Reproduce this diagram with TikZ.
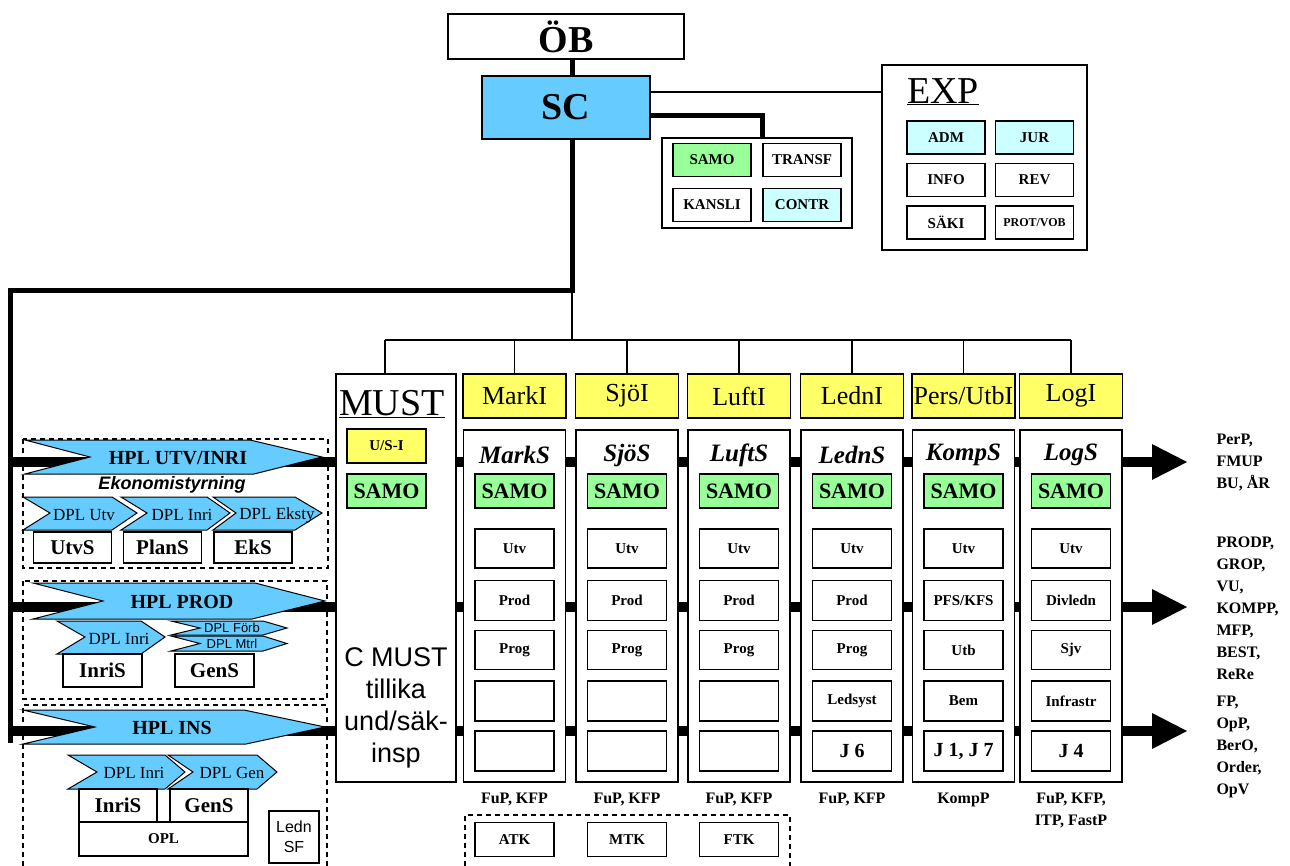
\documentclass[tikz,border=0pt]{standalone}
\usepackage{fontspec}
\setmainfont{Liberation Serif}
\setsansfont{Liberation Sans}
\usetikzlibrary{arrows.meta}
\definecolor{scblue}{HTML}{66CCFF}
\definecolor{samogreen}{HTML}{99FF99}
\definecolor{palecyan}{HTML}{CCFFFF}
\definecolor{inspyellow}{HTML}{FFFF66}
\newcommand{\fsz}[1]{\fontsize{#1}{#1}\selectfont}
\tikzset{
  orgbox/.style={draw,line width=1.3pt,fill=white,inner sep=0pt,align=center},
  unitbox/.style={orgbox,minimum width=79pt,minimum height=39pt,font=\bfseries\fsz{15}},
  samobox/.style={unitbox,fill=samogreen,minimum height=34pt,font=\bfseries\fsz{22}},
  staffbox/.style={unitbox,minimum width=78pt,minimum height=33pt},
  inspbox/.style={orgbox,fill=inspyellow,minimum width=103pt,minimum height=44pt,font=\fsz{26}},
  colbox/.style={orgbox,minimum width=102pt,minimum height=352pt},
  banner/.style={draw,line width=1pt,fill=scblue},
  hpltext/.style={font=\bfseries\fsz{20}},
  dpltext/.style={font=\fsz{17}},
  hplline/.style={line width=10pt},
  busline/.style={line width=5pt},
  linkline/.style={line width=1.2pt},
  dashbox/.style={line width=1.3pt,dash pattern=on 5pt off 4pt},
  listtext/.style={font=\bfseries\fontsize{16}{22}\selectfont,align=left,anchor=west}
}
\begin{document}
\begin{tikzpicture}[x=1pt,y=-1pt]
\useasboundingbox (0,0) rectangle (1290,865);
% HPL lines to the outputs
\foreach \y/\n in {462/A,607/B,731/C} {
  \coordinate (in\n) at (8,\y);
  \coordinate (out\n) at (1188,\y);
  \draw[hplline,-{Triangle[length=36pt,width=33pt]}] (in\n) -- (out\n);
}
% top of the organisation
\node[orgbox,minimum width=236pt,minimum height=45pt,font=\bfseries\fsz{38}] (ob) at (566,36.5) {ÖB};
\node[orgbox,fill=scblue,minimum width=168pt,minimum height=63pt,font=\bfseries\fsz{38}] (sc) at (566,107.5) {SC};
\coordinate (spine) at (572,290);
\coordinate (west) at (10,290);
\coordinate (westend) at (10,743);
\coordinate (fork) at (572,340);
\draw[busline] (ob.south -| spine) -- (sc.north -| spine);
\draw[busline] (sc.south -| spine) -- (spine) -- (west) -- (westend);
\draw[linkline] (spine) -- (fork);
% secretariat
\node[orgbox,minimum width=190pt,minimum height=90pt] (sek) at (757,183) {};
\node[staffbox,fill=samogreen] (samoS) at (712,160) {SAMO};
\node[staffbox] (transf) at (802,160) {TRANSF};
\node[staffbox] (kansli) at (712,205) {KANSLI};
\node[staffbox,fill=palecyan] (contr) at (802,205) {CONTR};
\draw[busline] (sc.east |- 0,115) -| (transf.west |- sek.north);
% EXP
\node[orgbox,minimum width=205pt,minimum height=185pt] (exp) at (984.5,157.5) {};
\node[anchor=base,font=\fsz{38}] (exptitle) at (943,103) {\underline{EXP}};
\node[staffbox,fill=palecyan] (adm) at (946,137.5) {ADM};
\node[staffbox,fill=palecyan] (jur) at (1034.5,137.5) {JUR};
\node[staffbox] (info) at (946,180) {INFO};
\node[staffbox] (rev) at (1034.5,180) {REV};
\node[staffbox] (saki) at (946,222.5) {SÄKI};
\node[staffbox,font=\bfseries\fsz{12}] (prot) at (1034.5,222.5) {PROT/VOB};
\draw[linkline] (sc.east |- 0,92) -- (exp.west |- 0,92);
% MUST
\node[orgbox,minimum width=120pt,minimum height=408pt] (must) at (396,578) {};
\node[anchor=base,font=\fsz{38}] (musttitle) at (392,415) {\underline{MUST}};
\node[samobox,fill=inspyellow,font=\bfseries\fsz{15}] (usi) at (386.5,446) {U/S-I};
\node[samobox] (samoM) at (386.5,491) {SAMO};
\node[font=\sffamily\fontsize{27}{32}\selectfont,align=center] (cmust) at (396,708) {C MUST\\tillika\\und/säk-\\insp};
% staff columns
\foreach \i/\cx/\hd/\ttl/\ra/\rb/\rc/\rd/\re/\foot in {
  1/514.5/MarkI/MarkS/Utv/Prod/Prog/{}/{}/{FuP, KFP},
  2/627/SjöI/SjöS/Utv/Prod/Prog/{}/{}/{FuP, KFP},
  3/739/LuftI/LuftS/Utv/Prod/Prog/{}/{}/{FuP, KFP},
  4/852/LednI/LednS/Utv/Prod/Prog/Ledsyst/{\fsz{20}J 6}/{FuP, KFP},
  5/963.5/{Pers/UtbI}/KompS/Utv/{PFS/KFS}/Utb/Bem/{\fsz{20}J 1, J 7}/KompP,
  6/1071/LogI/LogS/Utv/Divledn/Sjv/Infrastr/{\fsz{20}J 4}/{FuP, KFP,\\ITP, FastP}} {
  \node[inspbox] (hd\i) at (\cx,396) {\hd};
  \draw[linkline] (hd\i.north |- fork) -- (hd\i.north);
  \node[colbox] (col\i) at (\cx,606) {};
  \node[font=\bfseries\itshape\fsz{25}] (ttl\i) at (\cx,455) {\ttl};
  \node[samobox] (samo\i) at (\cx,491) {SAMO};
  \node[unitbox] (r\i a) at (\cx,548.5) {\ra};
  \node[unitbox,minimum height=40pt] (r\i b) at (\cx,600.5) {\rb};
  \node[unitbox] (r\i c) at (\cx,650) {\rc};
  \node[unitbox,minimum height=40pt] (r\i d) at (\cx,701) {\rd};
  \node[unitbox,minimum height=40pt] (r\i e) at (\cx,751) {\re};
  \node[font=\bfseries\fontsize{16}{22}\selectfont,align=center,anchor=north] (ft\i) at (\cx,789) {\foot};
}
\draw[linkline] ([xshift=-11pt]must.north |- fork) -- (hd6.north |- fork);
\draw[linkline] ([xshift=-11pt]must.north |- fork) -- ([xshift=-11pt]must.north);
% outputs
\node[listtext] (outtxtA) at (1213,462) {PerP,\\FMUP\\BU, ÅR};
\node[listtext] (outtxtB) at (1213,608) {PRODP,\\GROP,\\VU,\\KOMPP,\\MFP,\\BEST,\\ReRe};
\node[listtext] (outtxtC) at (1213,747) {FP,\\OpP,\\BerO,\\Order,\\OpV};
% ATK MTK FTK
\draw[dashbox] (465,866) -- (465,815) -- (790,815) -- (790,866);
\node[unitbox,minimum height=34pt] (atk) at (514.5,839.5) {ATK};
\node[unitbox,minimum height=34pt] (mtk) at (627,839.5) {MTK};
\node[unitbox,minimum height=34pt] (ftk) at (739,839.5) {FTK};
% HPL UTV/INRI
\draw[dashbox] (23,439) rectangle (328,568);
\draw[banner] (25,440) -- (250,440) -- (322,457) -- (254,474) -- (25,474) -- (90,457) -- cycle;
\node[hpltext] (hplutv) at (178,458) {HPL UTV/INRI};
\node[font=\sffamily\bfseries\itshape\fsz{18}] (ekon) at (172,485) {Ekonomistyrning};
\draw[banner] (23,497) -- (112,497) -- (137,513) -- (112,530) -- (23,530) -- (50,513) -- cycle;
\draw[banner] (121,497) -- (207,497) -- (230,513) -- (207,530) -- (121,530) -- (147,513) -- cycle;
\draw[banner] (213,497) -- (295,497) -- (322,513) -- (295,530) -- (213,530) -- (236,513) -- cycle;
\node[dpltext] (dplutv) at (84,515) {DPL Utv};
\node[dpltext] (dplinri) at (182,515) {DPL Inri};
\node[dpltext] (dpleksty) at (277,515) {DPL Eksty};
\node[staffbox,minimum height=31pt,font=\bfseries\fsz{21}] (utvs) at (72.5,547.5) {UtvS};
\node[staffbox,minimum height=31pt,font=\bfseries\fsz{21}] (plans) at (162.5,547.5) {PlanS};
\node[staffbox,minimum height=31pt,font=\bfseries\fsz{21}] (eks) at (253,547.5) {EkS};
% HPL PROD
\draw[dashbox] (23,581) rectangle (327,699);
\draw[banner] (33,583) -- (255,583) -- (325,601) -- (252,619) -- (33,619) -- (103,601) -- cycle;
\node[hpltext] (hplprod) at (182,602) {HPL PROD};
\draw[banner] (57,621) -- (141,621) -- (165,637) -- (141,654) -- (57,654) -- (85,637) -- cycle;
\node[dpltext] (dplinri2) at (119,639) {DPL Inri};
\draw[banner] (171,621) -- (263,621) -- (287,628) -- (263,635) -- (171,635) -- (200,628) -- cycle;
\draw[banner] (171,636) -- (263,636) -- (287,643.5) -- (263,651) -- (171,651) -- (200,643.5) -- cycle;
\node[font=\sffamily\fsz{13}] (dplforb) at (232,628) {DPL Förb};
\node[font=\sffamily\fsz{13}] (dplmtrl) at (232,643.5) {DPL Mtrl};
\node[staffbox,minimum width=79pt,font=\bfseries\fsz{21}] (inris2) at (102.5,670.5) {InriS};
\node[staffbox,minimum width=79pt,font=\bfseries\fsz{21}] (gens2) at (214.5,670.5) {GenS};
% HPL INS
\draw[dashbox] (23,866) -- (23,705) -- (327,705) -- (327,866);
\draw[banner] (23,710) -- (244,710) -- (325,727) -- (246,744) -- (23,744) -- (95,727) -- cycle;
\node[hpltext] (hplins) at (172,728) {HPL INS};
\draw[banner] (68,755) -- (165,755) -- (185,772) -- (165,789) -- (68,789) -- (97,772) -- cycle;
\draw[banner] (168,755) -- (257,755) -- (277,772) -- (257,789) -- (168,789) -- (193,772) -- cycle;
\node[dpltext] (dplinri3) at (134,773) {DPL Inri};
\node[dpltext] (dplgen) at (232,773) {DPL Gen};
\node[staffbox,font=\bfseries\fsz{21}] (inris3) at (118,805.5) {InriS};
\node[staffbox,font=\bfseries\fsz{21}] (gens3) at (209,805.5) {GenS};
\node[staffbox,minimum width=169pt,minimum height=34pt] (opl) at (163.5,839) {OPL};
\node[orgbox,minimum width=50pt,minimum height=52pt,font=\sffamily\fontsize{16}{20}\selectfont] (lednsf) at (294,837) {Ledn\\SF};
\end{tikzpicture}
\end{document}
